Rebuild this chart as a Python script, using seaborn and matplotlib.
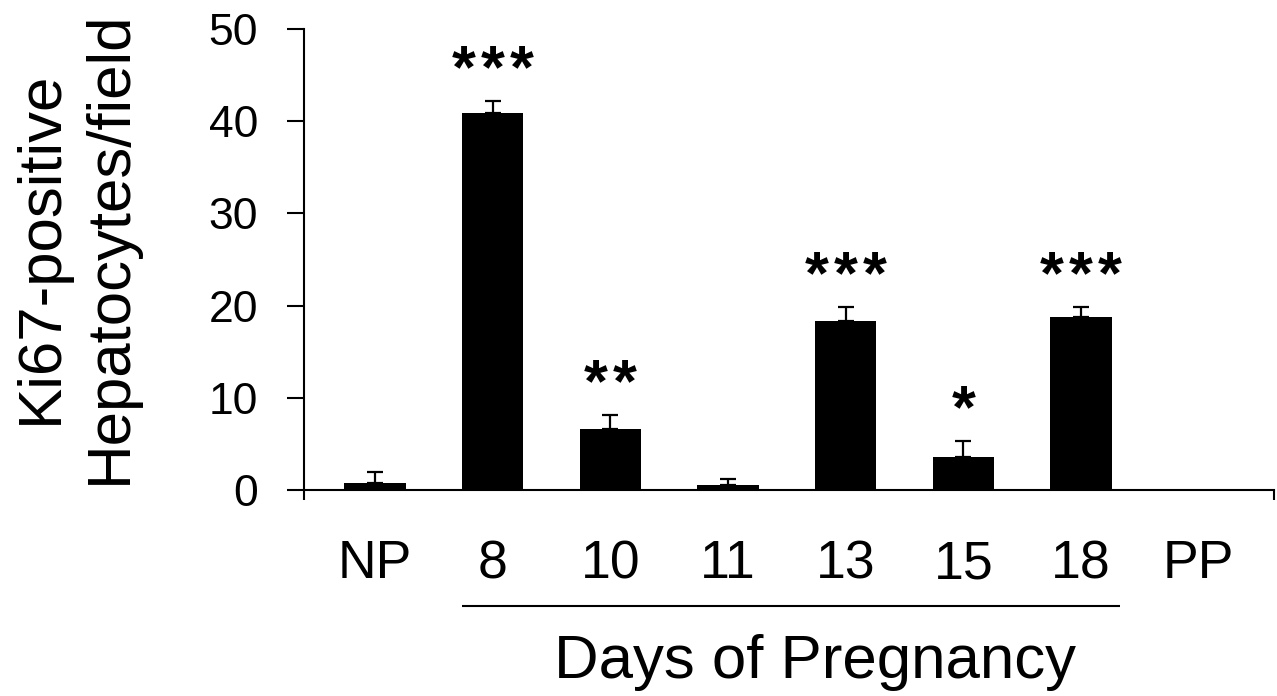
import numpy as np
import pandas as pd
import matplotlib
matplotlib.use("Agg")
import matplotlib.pyplot as plt
import seaborn as sns
from matplotlib.transforms import blended_transform_factory, offset_copy

# ---- data ----
categories = ["NP", "8", "10", "11", "13", "15", "18", "PP"]
bar_categories = ["NP", "8", "10", "11", "13", "15", "18"]
values = [0.8, 40.9, 6.6, 0.5, 18.3, 3.6, 18.8]
errors = [1.2, 1.3, 1.5, 0.7, 1.5, 1.7, 1.0]
stars = ["", "***", "**", "", "***", "*", "***"]
y_ticks = [0, 10, 20, 30, 40, 50]
ylabel = "Ki67-positive\nHepatocytes/field"
xlabel = "Days of Pregnancy"

sns.set_theme(style="white")
plt.rcParams["font.family"] = ["Liberation Sans", "DejaVu Sans"]

fig = plt.figure(figsize=(12.77, 6.96), dpi=100)
ax = fig.add_axes([0.2381, 0.29598, 0.75955, 0.66235])

df = pd.DataFrame({"day": bar_categories, "count": values})
sns.barplot(data=df, x="day", y="count", order=categories, color="black",
            saturation=1, width=0.52, errorbar=None, ax=ax, linewidth=0)

pos = np.array([categories.index(c) for c in bar_categories])
ax.errorbar(pos, values, yerr=[np.zeros(len(values)), errors], fmt="none",
            ecolor="black", elinewidth=1.6, capsize=5.8, capthick=1.6, zorder=3)

# significance stars, drawn one glyph at a time for wider spacing
star_step_pt = 20.9
for x, v, e, s in zip(pos, values, errors, stars):
    n = len(s)
    for k in range(n):
        dx = (k - (n - 1) / 2) * star_step_pt
        tr = offset_copy(ax.transData, fig=fig, x=dx, y=0, units="points")
        ax.text(x, v + e + 1.5, "*", ha="center", va="baseline", transform=tr,
                fontsize=44, fontweight="bold", color="black")

xmin, xmax = -0.603, 7.64
ax.set_xlim(xmin, xmax)
ax.set_ylim(0, 50)
ax.set_yticks(y_ticks)

for side in ["top", "right"]:
    ax.spines[side].set_visible(False)
for side in ["left", "bottom"]:
    ax.spines[side].set_linewidth(1.5)
    ax.spines[side].set_color("black")

ax.tick_params(axis="y", which="major", length=12, width=1.5, pad=21,
               labelsize=32, color="black", labelcolor="black", left=True)
ax.set_xticks(range(len(categories)))
ax.set_xticklabels(categories, va="baseline")
ax.tick_params(axis="x", which="major", length=0, pad=63.4, labelsize=38.5,
               labelcolor="black")
ax.set_xticks([xmin, xmax], minor=True)
ax.tick_params(axis="x", which="minor", length=7.5, width=1.5, color="black",
               bottom=True, direction="out")

ax.set_xlabel("")
ax.set_ylabel(ylabel, fontsize=44.5, linespacing=1.28, color="black")
ax.yaxis.set_label_coords(-0.170, 0.526)

trans = blended_transform_factory(ax.transData, ax.transAxes)
ax.plot([0.74, 6.33], [-0.2516, -0.2516], transform=trans, color="black",
        lw=1.5, clip_on=False, solid_capstyle="butt")

fig.text(815 / 1277, (696 - 678) / 696, xlabel, ha="center", va="baseline",
         fontsize=44.5, color="black")

fig.savefig("out.png", dpi=100, facecolor="white")
